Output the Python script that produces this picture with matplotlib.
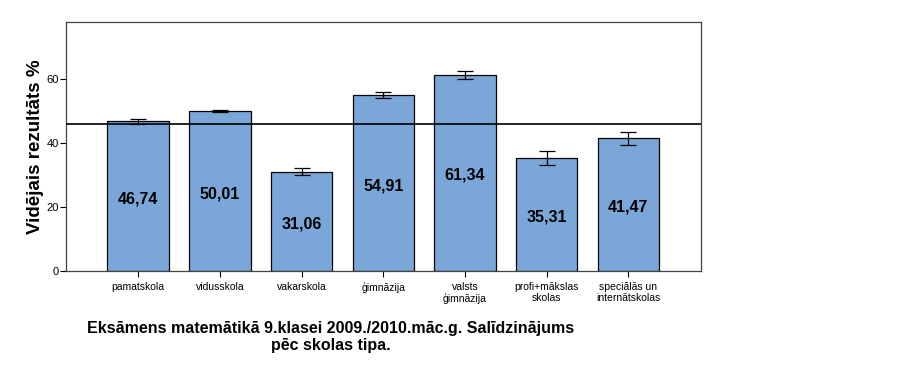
#!/usr/bin/env python3
"""Eksāmens matemātikā 9.klasei 2009./2010. – vidējais rezultāts pēc skolas tipa."""

import matplotlib.pyplot as plt

# === DATA ===
school_types = ["pamatskola", "vidusskola", "vakarskola", "ģimnāzija",
                "valsts\nģimnāzija", "profi+mākslas\nskolas", "speciālās un\ninternātskolas"]
mean_scores = [46.74, 50.01, 31.06, 54.91, 61.34, 35.31, 41.47]
error_halfwidth = [0.7, 0.35, 1.1, 1.0, 1.2, 2.1, 2.0]
overall_mean = 45.9
value_labels = ["46,74", "50,01", "31,06", "54,91", "61,34", "35,31", "41,47"]

plt.rcParams["font.family"] = ["Liberation Sans", "DejaVu Sans"]

# === PLOT ===
fig = plt.figure(figsize=(9.23, 3.67), dpi=100)
ax = fig.add_axes([0.0715, 0.2616, 0.688, 0.6785])

x = range(len(school_types))
ax.bar(x, mean_scores, width=0.754, color="#7AA7D7", edgecolor="black", linewidth=0.9, zorder=2)
ax.errorbar(x, mean_scores, yerr=error_halfwidth, fmt="none", ecolor="black",
            elinewidth=0.9, capsize=6, capthick=0.9, zorder=3)
ax.axhline(overall_mean, color="black", linewidth=1.2, zorder=4)

for xi, val, lab in zip(x, mean_scores, value_labels):
    ax.text(xi, val / 2 - 0.8, lab, ha="center", va="center", fontsize=11.5,
            fontweight="bold", color="black", zorder=5)

ax.set_xlim(-0.885, 6.89)
ax.set_ylim(0, 77.8)
ax.set_xticks(list(x))
ax.set_xticklabels(school_types, fontsize=7.5, linespacing=1.15)
ax.set_yticks([0, 20, 40, 60])
ax.tick_params(axis="y", labelsize=8, length=4, width=0.8, pad=1)
ax.tick_params(axis="x", length=4, width=0.8, pad=4)
for s in ax.spines.values():
    s.set_color("#444444")
    s.set_linewidth(0.9)

ax.set_ylabel("Vidējais rezultāts %", fontsize=13.5, fontweight="bold", labelpad=2)

fig.text(331 / 923, 1 - 337 / 367,
         "Eksāmens matemātikā 9.klasei 2009./2010.māc.g. Salīdzinājums\npēc skolas tipa.",
         ha="center", va="center", fontsize=11.5, fontweight="bold", linespacing=1.2)

plt.savefig("out.png", dpi=100)
plt.close()
